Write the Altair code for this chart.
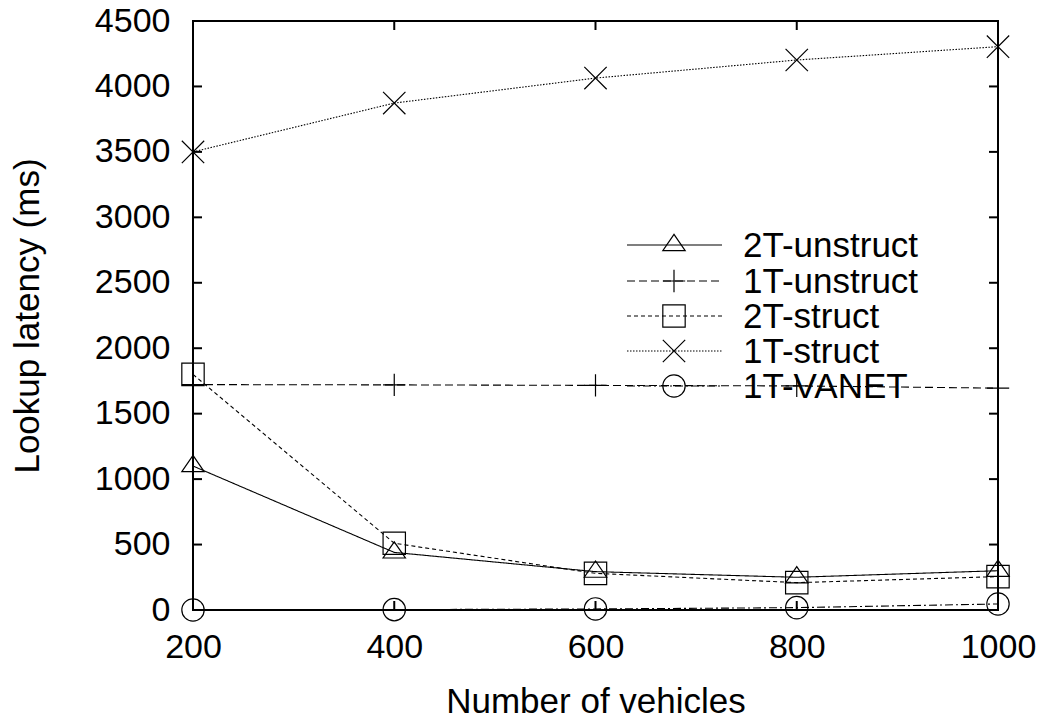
import altair as alt
import pandas as pd

# ---- data ----
vehicles = [200, 400, 600, 800, 1000]
series_names = ["2T-unstruct", "1T-unstruct", "2T-struct", "1T-struct", "1T-VANET"]
lat_2t_unstruct = [1100, 440, 293, 250, 300]
lat_1t_unstruct = [1722, 1720, 1716, 1712, 1695]
lat_2t_struct = [1800, 510, 280, 209, 255]
lat_1t_struct = [3500, 3873, 4064, 4202, 4304]
lat_1t_vanet = [0, 3, 8, 18, 46]

x_ticks = [200, 400, 600, 800, 1000]
y_ticks = [0, 500, 1000, 1500, 2000, 2500, 3000, 3500, 4000, 4500]

values = {
    "2T-unstruct": lat_2t_unstruct,
    "1T-unstruct": lat_1t_unstruct,
    "2T-struct": lat_2t_struct,
    "1T-struct": lat_1t_struct,
    "1T-VANET": lat_1t_vanet,
}

# ---- styles ----
FONT = "Liberation Sans"
W, H = 805, 589
dashes = {
    "2T-unstruct": [1, 0],
    "1T-unstruct": [8, 4],
    "2T-struct": [4, 3],
    "1T-struct": [1.5, 1.5],
    "1T-VANET": [8, 3, 2, 3],
}
shapes = {
    "2T-unstruct": "M0,-0.95L-1,0.5L1,0.5Z",
    "1T-unstruct": "M-1,0L1,0M0,-1L0,1",
    "2T-struct": "square",
    "1T-struct": "M-1,-1L1,1M-1,1L1,-1",
    "1T-VANET": "circle",
}
MSIZE = 500

xscale = alt.Scale(domain=[200, 1000], nice=False, zero=False)
yscale = alt.Scale(domain=[0, 4500], nice=False)

xaxis = alt.Axis(values=x_ticks, title="Number of vehicles", ticks=False, domain=False,
                 grid=False, labelFontSize=34, labelPadding=20, labelFont=FONT,
                 labelColor="black", labelFlush=False, labelOverlap=False,
                 titleFont=FONT, titleFontSize=35,
                 titleFontWeight="normal", titleColor="black", titleY=102,
                 titleBaseline="alphabetic", format="d")
yaxis = alt.Axis(values=y_ticks, title="Lookup latency (ms)", ticks=False, domain=False,
                 grid=False, labelFontSize=34, labelPadding=23, labelFont=FONT,
                 labelColor="black", labelFlush=False, labelOverlap=False,
                 titleFont=FONT, titleFontSize=35,
                 titleFontWeight="normal", titleColor="black", titleX=-155,
                 titleY=H / 2, titleAngle=-90, titleAlign="center",
                 titleBaseline="alphabetic", format="d")

layers = []

# axis ticks (inward, on all four sides)
ydf = pd.DataFrame({"t": y_ticks})
xdf = pd.DataFrame({"t": x_ticks})
base_y = alt.Chart(ydf)
base_x = alt.Chart(xdf)
layers.append(base_y.mark_rule(color="black", strokeWidth=2).encode(
    y=alt.Y("t:Q", scale=yscale, axis=yaxis), x=alt.value(0), x2=alt.value(9)))
layers.append(base_y.mark_rule(color="black", strokeWidth=2).encode(
    y=alt.Y("t:Q", scale=yscale), x=alt.value(W - 9), x2=alt.value(W)))
layers.append(base_x.mark_rule(color="black", strokeWidth=2).encode(
    x=alt.X("t:Q", scale=xscale, axis=xaxis), y=alt.value(H), y2=alt.value(H - 9)))
layers.append(base_x.mark_rule(color="black", strokeWidth=2).encode(
    x=alt.X("t:Q", scale=xscale), y=alt.value(0), y2=alt.value(9)))

# data series
for name in series_names:
    df = pd.DataFrame({"x": vehicles, "y": values[name]})
    b = alt.Chart(df)
    layers.append(b.mark_line(color="black", strokeWidth=1.1,
                              strokeDash=dashes[name]).encode(
        x=alt.X("x:Q", scale=xscale), y=alt.Y("y:Q", scale=yscale)))
    layers.append(b.mark_point(shape=shapes[name], size=MSIZE, filled=False,
                               color="black", strokeWidth=1.2, opacity=1).encode(
        x=alt.X("x:Q", scale=xscale), y=alt.Y("y:Q", scale=yscale)))

# manual legend (gnuplot style: line + marker + text)
leg_rows_y = [224, 260, 295, 330, 365]
for i, name in enumerate(series_names):
    ldf = pd.DataFrame({"label": [name]})
    lb = alt.Chart(ldf)
    yy = leg_rows_y[i]
    layers.append(lb.mark_rule(color="black", strokeWidth=1.1,
                               strokeDash=dashes[name]).encode(
        x=alt.value(434), x2=alt.value(529), y=alt.value(yy)))
    layers.append(lb.mark_point(shape=shapes[name], size=MSIZE, filled=False,
                                color="black", strokeWidth=1.2, opacity=1).encode(
        x=alt.value(481), y=alt.value(yy)))
    layers.append(lb.mark_text(align="left", baseline="middle", font=FONT,
                               fontSize=35, color="black").encode(
        x=alt.value(550), y=alt.value(yy + 1), text="label:N"))

chart = alt.layer(*layers).properties(
    width=W, height=H,
    autosize=alt.AutoSizeParams(type="none"),
    padding={"left": 185, "top": 13, "right": 45, "bottom": 104},
).configure_view(stroke="black", strokeWidth=2)

chart.save("out.html", embed_options={"renderer": "svg", "actions": False})
